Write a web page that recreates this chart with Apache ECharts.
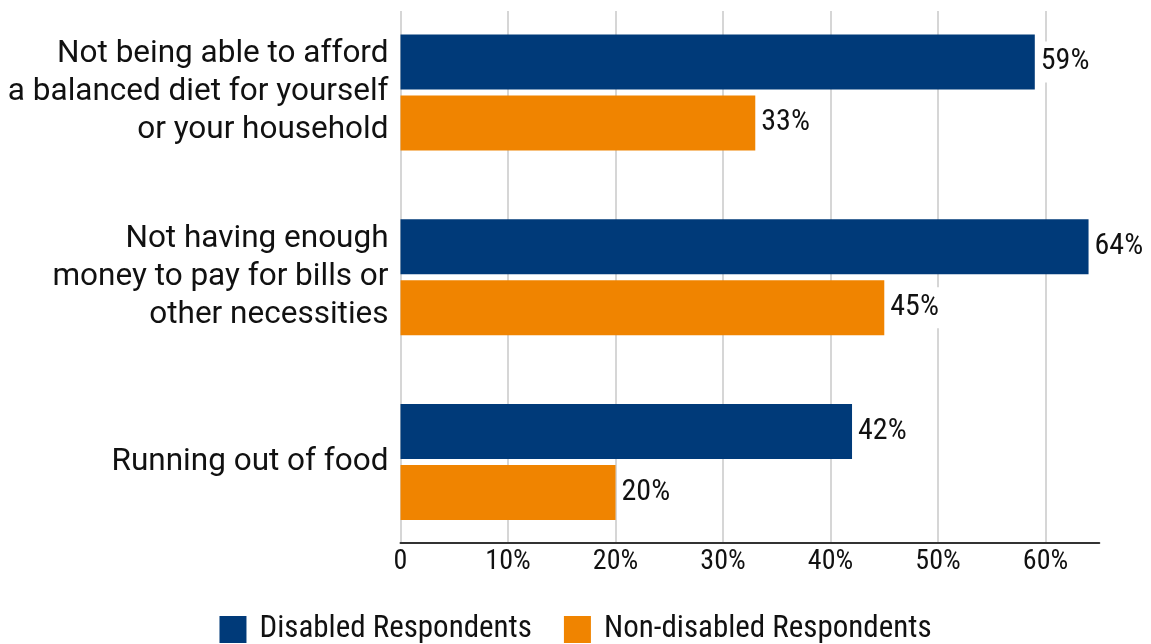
<!DOCTYPE html>
<html>
<head>
<meta charset="utf-8">
<script src="https://cdn.jsdelivr.net/npm/echarts@6/dist/echarts.min.js"></script>
<style>
  html, body { margin: 0; padding: 0; background: #fff; }
  #chart { width: 1151px; height: 644px; }
</style>
</head>
<body>
<div id="chart"></div>
<script>
// Financial hardship indicators, share of respondents
const categories = [
  'Not being able to afford\na balanced diet for yourself\nor your household',
  'Not having enough\nmoney to pay for bills or\nother necessities',
  'Running out of food'
];
const seriesNames = ['Disabled Respondents', 'Non-disabled Respondents'];
const disabledValues = [59, 64, 42];
const nonDisabledValues = [33, 45, 20];
const axisTicks = [0, 10, 20, 30, 40, 50, 60];

const BLUE = '#003a79';
const ORANGE = '#f08400';
const NARROW = "'Liberation Sans Narrow', 'Roboto Condensed', 'DejaVu Sans Condensed', sans-serif";
const REGULAR = "Roboto, 'Noto Sans', sans-serif";

const chart = echarts.init(document.getElementById('chart'), null, { renderer: 'canvas' });

const valueLabel = {
  show: true,
  position: 'right',
  distance: 4,
  formatter: p => p.value + '%',
  color: '#111',
  fontFamily: NARROW,
  fontSize: 30,
  backgroundColor: '#fff',
  padding: [6, 2, 5, 2]
};

chart.setOption({
  animation: false,
  backgroundColor: '#fff',
  grid: [
    // frame with gridlines and the value axis
    { left: 400.5, right: 51.7, top: 11, bottom: 101.3 },
    // bars and category labels
    { left: 400.5, right: 51.7, top: -0.5, height: 555 }
  ],
  legend: {
    data: seriesNames,
    left: 'center',
    top: 609,
    icon: 'rect',
    itemWidth: 27,
    itemHeight: 27,
    itemGap: 32,
    textStyle: {
      fontFamily: NARROW,
      fontSize: 31,
      lineHeight: 27,
      color: '#111',
      padding: [0, 0, 0, 8]
    }
  },
  xAxis: [
    {
      gridIndex: 0,
      type: 'value',
      min: 0,
      max: 65,
      interval: 10,
      axisLine: { show: true, lineStyle: { color: '#333', width: 2 } },
      axisTick: { show: false },
      axisLabel: {
        margin: 5,
        showMaxLabel: false,
        color: '#111',
        fontFamily: NARROW,
        fontSize: 28,
        formatter: v => (axisTicks.indexOf(v) === -1 ? '' : (v === 0 ? '0' : v + '%'))
      },
      splitLine: { show: true, showMaxLine: false, lineStyle: { color: '#c8c8c8', width: 1.5 } }
    },
    {
      gridIndex: 1,
      type: 'value',
      min: 0,
      max: 65,
      show: false,
      splitLine: { show: false }
    }
  ],
  yAxis: [
    {
      gridIndex: 0,
      type: 'category',
      data: categories,
      show: false
    },
    {
      gridIndex: 1,
      type: 'category',
      data: categories,
      inverse: true,
      axisLine: { show: false },
      axisTick: { show: false },
      splitLine: { show: false },
      axisLabel: {
        margin: 12,
        color: '#111',
        fontFamily: REGULAR,
        fontSize: 31.5,
        lineHeight: 38
      }
    }
  ],
  series: [
    {
      name: seriesNames[0],
      type: 'bar',
      xAxisIndex: 1,
      yAxisIndex: 1,
      data: disabledValues,
      barWidth: 55,
      barGap: '11%',
      itemStyle: { color: BLUE },
      label: valueLabel
    },
    {
      name: seriesNames[1],
      type: 'bar',
      xAxisIndex: 1,
      yAxisIndex: 1,
      data: nonDisabledValues,
      barWidth: 55,
      barGap: '11%',
      itemStyle: { color: ORANGE },
      label: valueLabel
    }
  ]
});
</script>
</body>
</html>
